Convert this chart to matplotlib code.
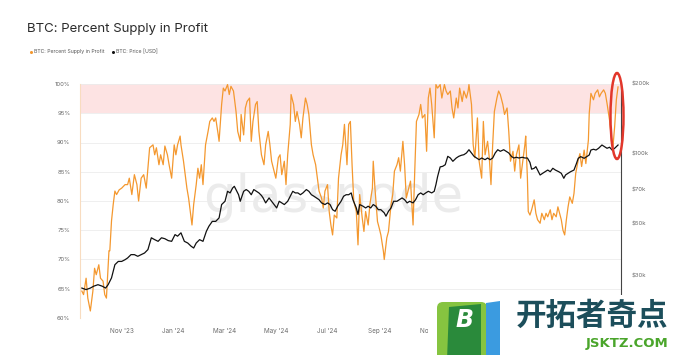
import numpy as np
import pandas as pd
import matplotlib
matplotlib.use("Agg")
import matplotlib.pyplot as plt
from matplotlib.patches import Ellipse, Rectangle, Polygon, FancyBboxPatch
import matplotlib.ticker as mticker

plt.rcParams['font.family'] = ['Inter', 'DejaVu Sans']

# ---------------- data ----------------
BASE_DATE = "2023-11-01"   # day offsets below are relative to this date

pct_day = [
    -47, -45, -42, -40, -37, -34, -32, -30, -27, -25,
    -22, -20, -18, -15, -14, -12, -10, -8, -6, -3,
    0, 4, 7, 9, 12, 15, 18, 20, 23, 26,
    29, 31, 33, 37, 39, 41, 44, 46, 49, 51,
    54, 56, 59, 62, 64, 66, 69, 70, 73, 75,
    77, 79, 81, 83, 85, 88, 90, 92, 94, 96,
    99, 102, 104, 107, 109, 111, 114, 115, 118, 120,
    122, 125, 127, 129, 132, 135, 137, 140, 141, 144,
    146, 148, 151, 153, 155, 158, 160, 162, 165, 168,
    170, 173, 175, 177, 180, 182, 185, 187, 189, 192,
    194, 196, 199, 200, 203, 205, 207, 210, 212, 214,
    217, 219, 221, 224, 226, 229, 231, 233, 236, 238,
    240, 243, 245, 247, 249, 251, 254, 256, 259, 261,
    263, 266, 268, 270, 272, 274, 277, 279, 281, 284,
    286, 288, 291, 293, 296, 297, 299, 302, 304, 306,
    309, 310, 313, 315, 318, 320, 322, 325, 327, 329,
    332, 334, 336, 339, 341, 344, 346, 348, 351, 353,
    355, 358, 360, 362, 364, 366, 369, 371, 373, 376,
    378, 381, 383, 385, 388, 390, 392, 395, 397, 399,
    402, 404, 407, 409, 410, 413, 415, 417, 420, 422,
    425, 427, 429, 432, 434, 436, 438, 440, 443, 445,
    447, 450, 452, 455, 457, 459, 462, 464, 466, 469,
    471, 473, 476, 477, 479, 480, 482, 484, 487, 489,
    491, 494, 496, 499, 501, 503, 506, 508, 510, 513,
    515, 517, 519, 521, 523, 525, 527, 529, 532, 534,
    536, 539, 541, 543, 546, 548, 551, 552, 554, 557,
    559, 562, 564, 566, 569, 571, 573, 576, 578, 580,
    582, 584, 586,
]
pct_supply = [
    64.6, 64.0, 66.8, 63.4, 61.2, 64.6, 68.5, 67.4, 69.1, 66.8,
    66.3, 64.0, 63.4, 71.5, 71.5, 76.6, 79.4, 81.7, 81.1, 81.9,
    82.2, 82.8, 82.8, 83.9, 81.1, 84.5, 82.8, 80.0, 83.9, 84.5,
    82.2, 85.6, 89.1, 89.6, 87.9, 89.1, 86.2, 87.9, 86.2, 89.4,
    87.9, 86.2, 83.9, 89.6, 87.9, 89.6, 91.1, 89.6, 86.8, 84.5,
    82.2, 80.5, 78.2, 75.9, 79.4, 82.8, 85.6, 83.9, 86.2, 82.8,
    89.6, 91.9, 93.6, 94.2, 93.6, 94.2, 91.3, 90.2, 96.5, 99.3,
    98.8, 99.9, 98.2, 99.6, 98.8, 95.3, 91.9, 90.2, 94.8, 91.3,
    95.9, 97.0, 97.6, 90.2, 93.6, 96.5, 97.0, 91.9, 87.9, 86.2,
    89.6, 91.9, 89.6, 86.8, 85.1, 83.9, 87.4, 87.9, 84.5, 86.8,
    82.8, 87.9, 93.1, 98.2, 96.5, 93.6, 95.3, 93.1, 90.8, 94.2,
    97.6, 96.5, 94.8, 89.6, 87.9, 86.2, 83.9, 81.7, 80.5, 78.8,
    81.7, 82.8, 78.2, 75.9, 74.2, 77.6, 77.1, 83.9, 87.9, 89.6,
    93.1, 86.2, 93.1, 93.6, 86.2, 80.0, 78.2, 72.5, 81.1, 77.1,
    74.8, 78.2, 75.9, 79.4, 82.2, 86.8, 82.2, 76.5, 75.4, 74.2,
    71.4, 70.0, 73.7, 74.8, 79.4, 81.1, 85.1, 86.2, 87.4, 85.1,
    90.2, 86.2, 80.5, 82.2, 83.4, 75.9, 85.1, 93.6, 94.8, 96.5,
    94.2, 94.8, 88.5, 97.6, 99.3, 96.5, 90.8, 99.9, 99.3, 99.9,
    97.6, 99.9, 98.8, 98.2, 98.8, 95.9, 94.2, 97.6, 95.9, 99.3,
    97.0, 98.8, 97.6, 98.8, 99.9, 96.5, 89.6, 87.4, 94.2, 86.8,
    83.9, 93.6, 87.9, 90.2, 87.4, 82.8, 89.6, 95.3, 97.6, 98.8,
    98.2, 96.5, 94.8, 95.9, 91.9, 86.8, 88.5, 85.1, 87.9, 89.6,
    83.9, 86.2, 89.6, 91.1, 83.9, 78.2, 77.6, 78.5, 80.2, 77.9,
    76.8, 76.2, 77.9, 76.8, 77.9, 77.3, 78.5, 76.8, 77.9, 77.3,
    79.0, 77.9, 76.8, 75.0, 74.2, 76.8, 79.0, 80.7, 79.6, 81.3,
    84.7, 87.0, 88.1, 85.9, 88.7, 86.4, 90.4, 95.0, 98.4, 97.3,
    98.4, 99.0, 97.8, 98.4, 99.0, 98.4, 96.7, 93.8, 91.0, 89.3,
    92.7, 97.3, 99.5,
]

price_day = [
    -47, -42, -37, -33, -28, -23, -19, -16, -12, -8,
    -4, 0, 4, 7, 11, 15, 19, 23, 27, 31,
    35, 39, 43, 47, 51, 55, 59, 63, 66, 70,
    74, 78, 82, 85, 88, 92, 96, 100, 103, 107,
    111, 115, 118, 122, 125, 128, 131, 133, 136, 138,
    140, 144, 147, 150, 153, 156, 159, 162, 165, 167,
    170, 174, 177, 180, 183, 186, 189, 192, 196, 199,
    202, 205, 208, 211, 214, 218, 221, 224, 227, 230,
    233, 236, 240, 243, 246, 249, 252, 255, 259, 262,
    265, 268, 271, 273, 277, 279, 281, 285, 288, 291,
    294, 297, 300, 303, 306, 310, 312, 315, 318, 321,
    325, 328, 331, 334, 337, 340, 344, 347, 350, 353,
    356, 359, 362, 366, 369, 371, 373, 376, 379, 382,
    385, 388, 391, 395, 398, 401, 404, 407, 410, 413,
    416, 419, 422, 425, 429, 432, 435, 438, 441, 444,
    447, 451, 454, 457, 460, 463, 466, 469, 473, 476,
    479, 482, 484, 487, 489, 491, 494, 497, 500, 503,
    506, 509, 512, 516, 519, 522, 524, 527, 530, 534,
    537, 539, 542, 546, 549, 552, 554, 557, 560, 563,
    567, 570, 573, 576, 579, 582, 586,
]
price_usd_k = [
    26.5, 26.1, 26.5, 27.0, 27.4, 27.0, 26.5, 27.4, 29.3, 33.4,
    34.5, 34.5, 35.1, 35.7, 36.9, 36.9, 36.3, 36.9, 37.5, 38.8,
    43.6, 42.8, 42.1, 43.6, 43.2, 42.4, 42.1, 45.0, 44.3, 45.8,
    42.1, 41.4, 40.1, 39.4, 41.4, 42.8, 42.1, 46.5, 48.9, 51.3,
    51.3, 53.1, 60.6, 62.6, 69.1, 68.0, 71.4, 72.6, 69.1, 66.8,
    62.6, 69.1, 70.3, 69.1, 66.8, 70.3, 69.1, 68.0, 66.3, 64.7,
    61.6, 64.7, 62.6, 60.6, 58.6, 62.6, 61.6, 60.6, 62.6, 65.8,
    69.1, 68.0, 68.0, 66.8, 68.0, 70.3, 69.1, 66.8, 65.8, 64.7,
    63.6, 61.6, 60.6, 61.6, 60.6, 57.6, 56.7, 59.6, 62.6, 65.8,
    66.8, 66.8, 68.0, 63.6, 58.6, 54.9, 60.6, 59.6, 58.6, 59.6,
    58.6, 60.6, 59.6, 57.6, 57.6, 55.8, 54.0, 56.7, 58.6, 62.6,
    62.6, 63.6, 64.7, 63.6, 61.6, 62.6, 61.6, 63.6, 66.8, 68.0,
    66.8, 68.0, 69.1, 68.0, 69.1, 73.8, 80.0, 88.0, 88.5, 89.9,
    97.7, 96.1, 93.0, 96.1, 97.7, 98.7, 99.3, 101.0, 104.3, 101.0,
    97.7, 96.1, 94.5, 96.1, 94.5, 96.1, 94.5, 96.1, 101.0, 104.3,
    102.7, 104.3, 102.7, 101.0, 97.7, 96.1, 96.8, 96.1, 96.8, 96.1,
    96.1, 92.0, 86.0, 86.8, 88.2, 85.3, 81.2, 82.6, 83.9, 85.3,
    83.9, 86.8, 85.3, 83.9, 82.6, 78.6, 81.2, 82.6, 83.9, 85.3,
    91.2, 95.8, 97.4, 95.8, 97.4, 99.0, 104.0, 104.8, 104.0, 105.8,
    109.3, 107.5, 105.8, 106.9, 104.0, 105.8, 109.3,
]

pct_ticks = [60, 65, 70, 75, 80, 85, 90, 95, 100]
price_ticks_k = [30, 50, 70, 100, 200]
# later month labels are hidden under the site logo in the reference
month_ticks = ["2023-11-01", "2024-01-01", "2024-03-01", "2024-05-01",
               "2024-07-01", "2024-09-01", "2024-11-01"]
month_labels = ["Nov '23", "Jan '24", "Mar '24", "May '24", "Jul '24",
                "Sep '24", "Nov '24"]

title = "BTC: Percent Supply in Profit"
series_names = ["BTC: Percent Supply in Profit", "BTC: Price [USD]"]

# ---------------- styling ----------------
ORANGE = "#f4982f"
BLACK = "#111111"
PINK = "#fde3e3"
TICK_COLOR = "#6b6b6b"

base = pd.Timestamp(BASE_DATE)
pct_dates = base + pd.to_timedelta(pct_day, unit="D")
price_dates = base + pd.to_timedelta(price_day, unit="D")
price_vals = np.array(price_usd_k) * 1000.0

W, H = 676, 355
fig = plt.figure(figsize=(W / 100, H / 100), dpi=100)
fig.patch.set_facecolor("white")

# plot area in pixels: x 80..621, y 84..318
ax = fig.add_axes([80 / W, 1 - 318 / H, (621 - 80) / W, (318 - 84) / H])
ax.set_facecolor("none")
ax.set_xlim(base - pd.Timedelta(days=49.2), base + pd.Timedelta(days=589.5))
ax.set_ylim(60, 100)

ax.axhspan(95, 100, color=PINK, zorder=0, lw=0)
ax.set_yticks(pct_ticks)
ax.set_yticklabels([f"{t}%" for t in pct_ticks])
ax.grid(axis="y", color="#ececec", lw=0.6, zorder=0.2)
ax.set_axisbelow(True)

ax.plot(pct_dates, pct_supply, color=ORANGE, lw=0.9, zorder=3)

ax.set_xticks(pd.to_datetime(month_ticks))
ax.set_xticklabels(month_labels)
ax.tick_params(axis="x", length=0, pad=7, labelsize=4.6, colors=TICK_COLOR)
ax.tick_params(axis="y", length=0, pad=7, labelsize=4.3, colors=TICK_COLOR)
for s in ["top", "right", "bottom"]:
    ax.spines[s].set_visible(False)
ax.spines["left"].set_color("#f8dcc0")
ax.spines["left"].set_linewidth(0.8)

# watermark
ax.text(333 / W, 1 - 198 / H, "glassnode", transform=fig.transFigure,
        ha="center", va="center", fontsize=37, color="#ebebeb",
        family="DejaVu Sans", zorder=0.5)

ax2 = ax.twinx()
ax2.set_yscale("log")
ax2.set_ylim(19700, 200000)
ax2.plot(price_dates, price_vals, color=BLACK, lw=0.9, zorder=3)
ax2.yaxis.set_major_locator(mticker.FixedLocator([t * 1000 for t in price_ticks_k]))
ax2.yaxis.set_major_formatter(mticker.FixedFormatter([f"${t}k" for t in price_ticks_k]))
ax2.yaxis.set_minor_locator(mticker.NullLocator())
ax2.tick_params(axis="y", length=0, pad=8, labelsize=4.3, colors=TICK_COLOR)
for s in ["top", "left", "bottom"]:
    ax2.spines[s].set_visible(False)
ax2.spines["right"].set_color("#444444")
ax2.spines["right"].set_linewidth(0.8)

# ---------------- overlay (title, legend, annotations) ----------------
ov = fig.add_axes([0, 0, 1, 1], zorder=10)
ov.set_xlim(0, W)
ov.set_ylim(H, 0)
ov.axis("off")
ov.patch.set_alpha(0)

ov.text(27, 29, title, fontsize=9.5, color="#2b2b2b", va="center", ha="left")

ov.plot([31], [52], "o", color=ORANGE, ms=2.2, mec="none")
ov.text(34.5, 52, series_names[0], fontsize=3.7, color="#555555", va="center", ha="left")
ov.plot([113], [52], "o", color=BLACK, ms=2.2, mec="none")
ov.text(116, 52, series_names[1], fontsize=3.7, color="#555555", va="center", ha="left")

ov.add_patch(Ellipse((617, 116), 13, 86, fill=False, edgecolor="#e2372b", lw=1.8))

# site logo overlay (bottom right)
ov.add_patch(Rectangle((428, 295), W - 428, H - 295, color="white", lw=0))
ov.add_patch(FancyBboxPatch((437, 302), 50, 60, boxstyle="round,pad=0,rounding_size=6",
                            fc="#86c440", ec="none"))
ov.add_patch(Polygon([(486, 303), (500, 301), (500, 360), (486, 360)],
                     closed=True, fc="#3b9be0", ec="none"))
ov.add_patch(Polygon([(449, 307), (481, 304), (481, 360), (447, 360)],
                     closed=True, fc="#2a8a3b", ec="none"))
ov.text(464, 320, "B", fontsize=17, color="white", fontweight="bold",
        fontstyle="italic", ha="center", va="center", family="DejaVu Sans")
ov.text(592, 316, "开拓者奇点", fontsize=22, color="#1c4e5b", fontweight="bold",
        ha="center", va="center", family=["Noto Sans CJK SC", "DejaVu Sans"])
ov.text(668, 344, "JSKTZ.COM", fontsize=9.5, color="#4aa52b", fontweight="bold",
        ha="right", va="center", family="DejaVu Sans")

fig.savefig("out.png", dpi=100, facecolor="white")
